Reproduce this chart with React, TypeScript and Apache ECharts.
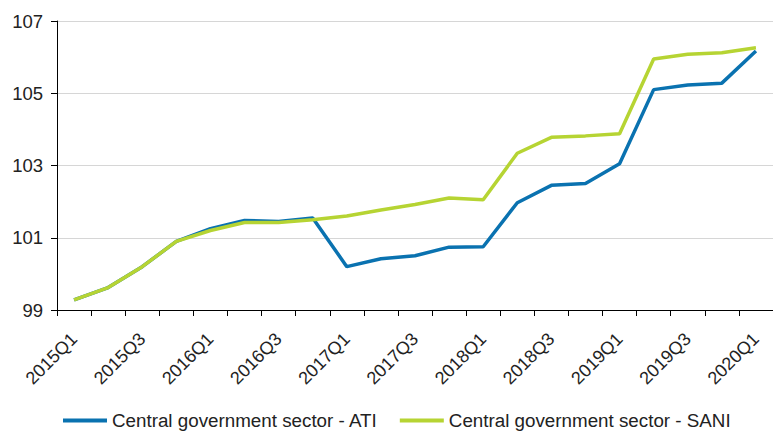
import React, { useEffect, useRef } from "react";
import * as echarts from "echarts";

const categories = [
  "2015Q1", "2015Q2", "2015Q3", "2015Q4",
  "2016Q1", "2016Q2", "2016Q3", "2016Q4",
  "2017Q1", "2017Q2", "2017Q3", "2017Q4",
  "2018Q1", "2018Q2", "2018Q3", "2018Q4",
  "2019Q1", "2019Q2", "2019Q3", "2019Q4",
  "2020Q1",
];

const atiValues = [
  99.28, 99.62, 100.2, 100.9,
  101.25, 101.48, 101.45, 101.55,
  100.2, 100.42, 100.5, 100.74,
  100.75, 101.97, 102.45, 102.5,
  103.05, 105.1, 105.23, 105.28,
  106.17,
];

const saniValues = [
  99.28, 99.62, 100.2, 100.9,
  101.2, 101.42, 101.42, 101.5,
  101.6, 101.77, 101.92, 102.1,
  102.05, 103.34, 103.78, 103.82,
  103.88, 105.95, 106.08, 106.12,
  106.26,
];

const seriesNames = ["Central government sector - ATI", "Central government sector - SANI"];
const colors = ["#0a72b0", "#b6d433"];

export default function App() {
  const ref = useRef<HTMLDivElement>(null);
  useEffect(() => {
    if (!ref.current) return;
    const chart = echarts.init(ref.current, undefined, { renderer: "svg" });
    const font = "'Liberation Sans', Arial, sans-serif";
    chart.setOption({
      animation: false,
      textStyle: { fontFamily: font },
      grid: { left: 57, top: 21, width: 717, height: 289 },
      legend: {
        top: 411,
        left: 63,
        icon: "rect",
        itemWidth: 44,
        itemHeight: 4,
        itemGap: 22,
        padding: 0,
        textStyle: { fontSize: 18.8, color: "#222", fontFamily: font },
        data: seriesNames,
      },
      xAxis: {
        type: "category",
        data: categories,
        boundaryGap: true,
        axisLine: { lineStyle: { color: "#000", width: 1 } },
        axisTick: { show: true, interval: 0, length: 6, lineStyle: { color: "#000" } },
        axisLabel: {
          interval: 1,
          rotate: 45,
          fontSize: 18,
          color: "#222",
          fontFamily: font,
          margin: 26,
        },
        splitLine: { show: false },
      },
      yAxis: {
        type: "value",
        min: 99,
        max: 107,
        interval: 2,
        axisLine: { show: true, lineStyle: { color: "#000", width: 1 } },
        axisTick: { show: true, length: 6, lineStyle: { color: "#000" } },
        axisLabel: { fontSize: 18.5, color: "#222", fontFamily: font, margin: 14 },
        splitLine: { show: true, lineStyle: { color: "#d6d6d6", width: 1 } },
      },
      series: [
        {
          name: seriesNames[0],
          type: "line",
          data: atiValues,
          symbol: "none",
          lineStyle: { color: colors[0], width: 3.5 },
          itemStyle: { color: colors[0] },
        },
        {
          name: seriesNames[1],
          type: "line",
          data: saniValues,
          symbol: "none",
          lineStyle: { color: colors[1], width: 3.5 },
          itemStyle: { color: colors[1] },
        },
      ],
    });
    return () => chart.dispose();
  }, []);
  return <div ref={ref} style={{ width: 773, height: 432, position: "absolute", left: 0, top: 0 }} />;
}
